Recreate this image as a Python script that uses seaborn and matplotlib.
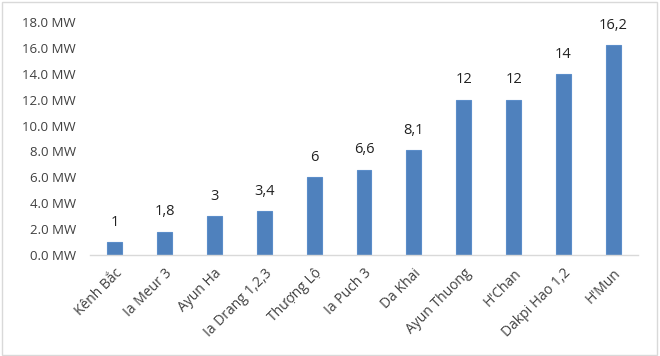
import matplotlib
matplotlib.use("Agg")
import matplotlib.pyplot as plt
import seaborn as sns
import pandas as pd

# Data
plants = ['Kênh Bắc', 'Ia Meur 3', 'Ayun Ha', 'Ia Drang 1,2,3', 'Thượng Lộ',
          'Ia Puch 3', 'Da Khai', 'Ayun Thuong', "H'Chan", 'Dakpi Hao 1,2', "H'Mun"]
capacity = [1, 1.8, 3, 3.4, 6, 6.6, 8.1, 12, 12, 14, 16.2]
yticks = [0, 2, 4, 6, 8, 10, 12, 14, 16, 18]

df = pd.DataFrame({'plant': plants, 'mw': capacity})

sns.set_theme(style="white")
plt.rcParams['font.family'] = ['Open Sans', 'DejaVu Sans']

fig = plt.figure(figsize=(6.6, 3.56), dpi=100)
ax = fig.add_axes([0.136, 0.284, 0.831, 0.654])

sns.barplot(data=df, x='plant', y='mw', color='#4F81BD', width=0.3,
            edgecolor='#5B8DC9', linewidth=0.8, saturation=1, ax=ax)

for i, v in enumerate(capacity):
    ax.text(i, v + 0.95, f"{v:g}".replace('.', ','), ha='center', va='bottom',
            fontsize=10.5, color='#222222')

ax.set_ylim(0, 18)
ax.set_yticks(yticks)
ax.set_yticklabels([f"{t:.1f} MW" for t in yticks], fontsize=9.5, color='#404040')
ax.set_xlim(-0.5, len(plants) - 0.5)
ax.set_xticks(range(len(plants)))
ax.set_xticklabels(plants, rotation=45, ha='right', rotation_mode='anchor',
                   fontsize=10, color='#404040')
ax.tick_params(axis='y', length=0, pad=10)
ax.tick_params(axis='x', length=0, pad=8)
ax.set_xlabel('')
ax.set_ylabel('')

for s in ['top', 'right', 'left']:
    ax.spines[s].set_visible(False)
ax.spines['bottom'].set_color('#D9D9D9')
ax.spines['bottom'].set_linewidth(1)

# outer chart border
fig.patches.append(plt.Rectangle((0.003, 0.004), 0.992, 0.99, transform=fig.transFigure,
                                 fill=False, edgecolor='#D9D9D9', linewidth=1))

fig.savefig('out.png', dpi=100)
